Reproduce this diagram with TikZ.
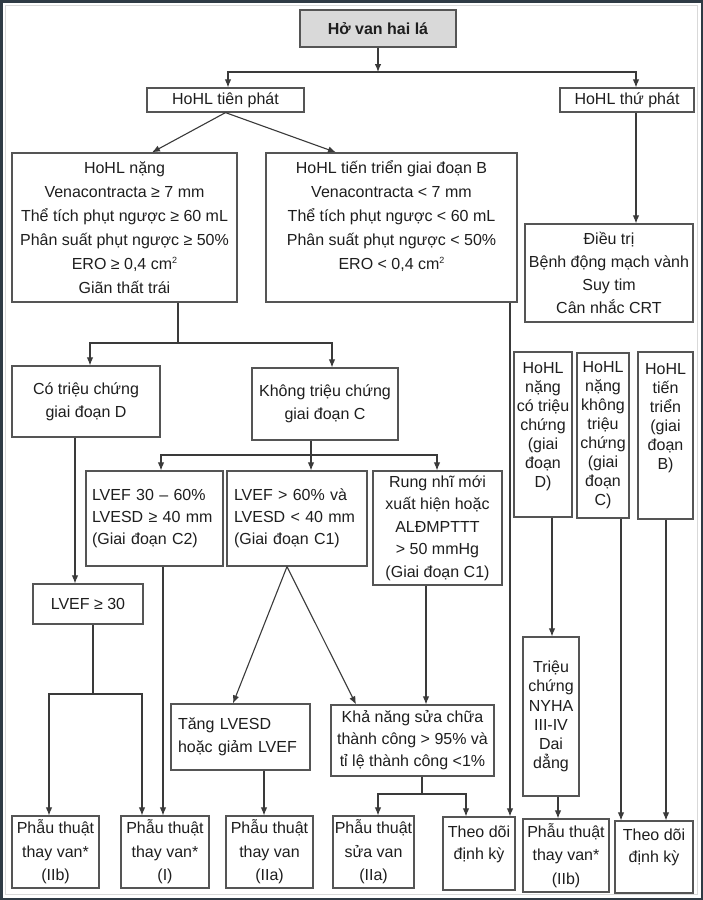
\documentclass[tikz,border=0pt]{standalone}
\usepackage{fontspec}
\setmainfont{Liberation Sans}
\usetikzlibrary{arrows.meta}
\definecolor{framec}{HTML}{2F3B45}
\definecolor{edgec}{HTML}{555555}
\definecolor{wirec}{HTML}{3A3A3A}
\definecolor{headfill}{HTML}{D9D9D9}
\definecolor{inkc}{HTML}{1E1E1E}

\tikzset{
  box/.style={draw=edgec, line width=1.2pt, fill=white, inner xsep=1pt, inner ysep=1pt,
    align=center, text=inkc, font=\fontsize{16}{24}\selectfont},
  ls/.style={font=\fontsize{16}{#1}\selectfont},
  wire/.style={draw=wirec, line width=1.1pt},
  arr/.style={wire, -{Latex[length=8pt,width=6.5pt]}},
}

% small raised "2" for cm squared
\newcommand\sqmark{\raisebox{6pt}{\fontsize{9}{9}\selectfont 2}}

% name, x1, y1, x2, y2, options, text
\newcommand\bx[7]{\node[box,#6,minimum width={#4-#2},minimum height={#5-#3}] (#1) at ({(#2+#4)/2},{(#3+#5)/2}) {#7};}

\begin{document}
\begin{tikzpicture}[x=1pt,y=-1pt]
\useasboundingbox (0,0) rectangle (703,900);
\fill[white] (0,0) rectangle (703,900);

% ---- boxes ----
\bx{title}{300}{10}{456}{47}{fill=headfill}{\textbf{Hở van hai lá}}
\bx{tp}{147}{88}{304}{112}{}{HoHL tiên phát}
\bx{tt}{560}{88}{694}{112}{}{HoHL thứ phát}

\bx{nang}{12}{153}{237}{302}{ls=24}{HoHL nặng\\Venacontracta ≥ 7 mm\\Thể tích phụt ngược ≥ 60 mL\\Phân suất phụt ngược ≥ 50\%\\ERO ≥ 0,4 cm\sqmark\\Giãn thất trái}
\bx{trien}{266}{153}{517}{302}{ls=24}{HoHL tiến triển giai đoạn B\\Venacontracta < 7 mm\\Thể tích phụt ngược < 60 mL\\Phân suất phụt ngược < 50\%\\ERO < 0,4 cm\sqmark\\~}
\bx{dt}{525}{224}{693}{322}{ls=23}{Điều trị\\Bệnh động mạch vành\\Suy tim\\Cân nhắc CRT}

\bx{cotrieu}{12}{366}{160}{437}{ls=23}{Có triệu chứng\\giai đoạn D}
\bx{khong}{252}{368}{398}{440}{ls=23}{Không triệu chứng\\giai đoạn C}

\bx{lvef1}{86}{471}{223}{566}{ls=22,align=left,inner xsep=6pt,text width=125pt}{LVEF 30 – 60\%\\LVESD ≥ 40 mm\\(Giai đoạn C2)}
\bx{lvef2}{227}{471}{367}{566}{ls=22,align=left,inner xsep=7pt,text width=126pt}{LVEF > 60\% và\\LVESD < 40 mm\\(Giai đoạn C1)}
\bx{rung}{373}{471}{502}{585}{ls=22.5}{Rung nhĩ mới\\xuất hiện hoặc\\ALĐMPTTT\\> 50 mmHg\\(Giai đoạn C1)}

\bx{r1}{514}{352}{572}{517}{ls=19}{HoHL\\nặng\\có triệu\\chứng\\(giai\\đoạn\\D)\\~}
\bx{r2}{577}{353}{629}{518}{ls=19}{HoHL\\nặng\\không\\triệu\\chứng\\(giai\\đoạn\\C)}
\bx{r3}{638}{352}{693}{519}{ls=19}{HoHL\\tiến\\triển\\(giai\\đoạn\\B)\\~\\~}

\bx{lvef30}{33}{584}{143}{624}{}{LVEF ≥ 30}
\bx{tang}{171}{704}{310}{770}{ls=23,align=left,inner xsep=7pt,text width=125pt}{Tăng LVESD\\hoặc giảm LVEF}
\bx{kha}{331}{705}{494}{776}{ls=22}{Khả năng sửa chữa\\thành công > 95\% và\\tỉ lệ thành công <1\%}
\bx{nyha}{523}{637}{579}{796}{ls=19.2}{Triệu\\chứng\\NYHA\\III-IV\\Dai\\dẳng}

\bx{b1}{12}{816}{99}{888}{ls=23.5}{Phẫu thuật\\thay van*\\(IIb)}
\bx{b2}{121}{816}{209}{888}{ls=23.5}{Phẫu thuật\\thay van*\\(I)}
\bx{b3}{226}{816}{313}{888}{ls=23.5}{Phẫu thuật\\thay van\\(IIa)}
\bx{b4}{333}{816}{414}{888}{ls=23.5}{Phẫu thuật\\sửa van\\(IIa)}
\bx{b5}{443}{817}{515}{890}{ls=22}{Theo dõi\\định kỳ\\~}
\bx{b6}{523}{819}{609}{892}{ls=23.5}{Phẫu thuật\\thay van*\\(IIb)}
\bx{b7}{615}{821}{693}{893}{ls=22}{Theo dõi\\định kỳ\\~}

% ---- junction points ----
\coordinate (j1) at (378,72);
\coordinate (j2) at (178,343);
\coordinate (j3) at (311,455);
\coordinate (j4) at (93,694);
\coordinate (j5) at (422,794);

% ---- connectors ----
\draw[arr] (title.south) -- (j1);
\draw[arr] (j1) -| ([xshift=2.5pt]tp.north);
\draw[arr] (j1) -| ([xshift=9pt]tt.north);
\draw[arr] ([xshift=9pt]tt.south) -- ([xshift=9pt]tt.south |- dt.north);

\draw[arr] (tp.south) -- ([xshift=27.5pt]nang.north);
\draw[arr] (tp.south) -- ([xshift=-55.5pt]trien.north);

\draw[wire] ([xshift=53.5pt]nang.south) -- (j2);
\draw[arr] (j2) -| ([xshift=4pt]cotrieu.north);
\draw[arr] (j2) -| ([xshift=7pt]khong.north);

\draw[wire] ([xshift=-14pt]khong.south) -- (j3);
\draw[arr] (j3) -- ([xshift=14pt]lvef2.north);
\draw[arr] (j3) -| ([xshift=6.5pt]lvef1.north);
\draw[arr] (j3) -| ([xshift=-0.5pt]rung.north);

\draw[arr] ([xshift=-11pt]cotrieu.south) -- ([xshift=-13pt]lvef30.north);
\draw[wire] ([xshift=5pt]lvef30.south) -- (j4);
\draw[arr] (j4) -| ([xshift=-6.5pt]b1.north);
\draw[arr] (j4) -| ([xshift=-23pt]b2.north);
\draw[arr] ([xshift=8.5pt]lvef1.south) -- ([xshift=-2pt]b2.north);

\draw[arr] ([xshift=-10pt]lvef2.south) -- ([xshift=-7.5pt]tang.north);
\draw[arr] ([xshift=-10pt]lvef2.south) -- ([xshift=-56.5pt]kha.north);
\draw[arr] ([xshift=23.5pt]tang.south) -- ([xshift=-5.5pt]b3.north);
\draw[arr] ([xshift=-11.5pt]rung.south) -- ([xshift=13.5pt]kha.north);

\draw[wire] ([xshift=9.5pt]kha.south) -- (j5);
\draw[arr] (j5) -| ([xshift=4.5pt]b4.north);
\draw[arr] (j5) -| ([xshift=-13pt]b5.north);
\draw[arr] ([xshift=118.5pt]trien.south) -- ([xshift=31pt]b5.north);

\draw[arr] ([xshift=9pt]r1.south) -- ([xshift=1pt]nyha.north);
\draw[arr] ([xshift=7pt]nyha.south) -- ([xshift=-8pt]b6.north);
\draw[arr] ([xshift=18pt]r2.south) -- ([xshift=-33pt]b7.north);
\draw[arr] ([xshift=0.5pt]r3.south) -- ([xshift=12pt]b7.north);

% ---- frame ----
\draw[gray!30, line width=0.8pt] (5.5,5.5) rectangle (697.5,894.5);
\draw[framec, line width=5pt] (0,0) rectangle (703,900);
\end{tikzpicture}
\end{document}
